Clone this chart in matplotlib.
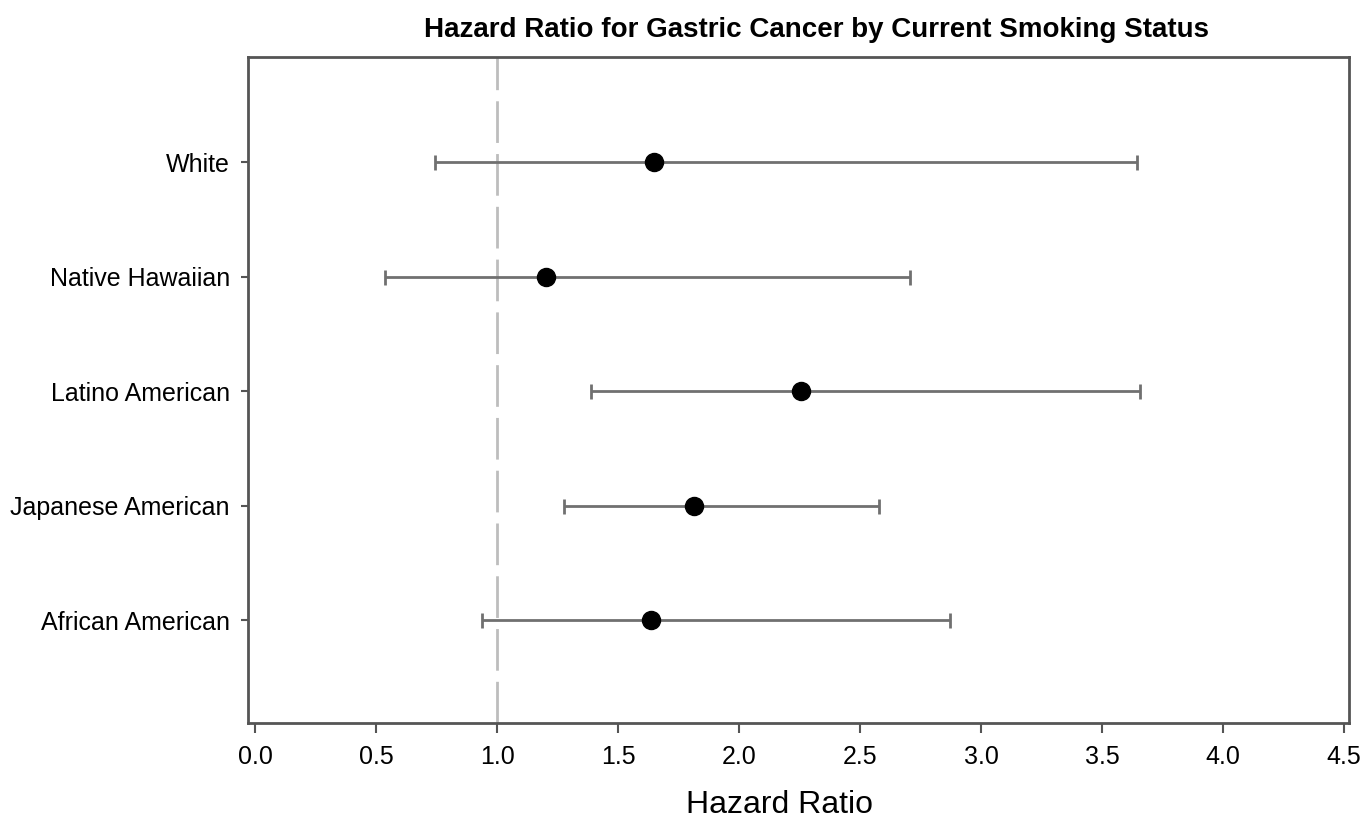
import numpy as np
import matplotlib
matplotlib.use("Agg")
import matplotlib.pyplot as plt

plt.rcParams['font.family'] = ['Liberation Sans', 'DejaVu Sans']

groups = ["African American", "Japanese American", "Latino American",
          "Native Hawaiian", "White"]
hr = [1.635, 1.813, 2.257, 1.20, 1.647]
ci_low = [0.938, 1.274, 1.386, 0.535, 0.743]
ci_high = [2.871, 2.577, 3.655, 2.705, 3.643]
xticks = [0.0, 0.5, 1.0, 1.5, 2.0, 2.5, 3.0, 3.5, 4.0, 4.5]

fig = plt.figure(figsize=(13.71, 8.27), dpi=100)
ax = fig.add_axes([248/1371, 1-723/827, (1349-248)/1371, (723-57)/827])

y = np.arange(1, len(groups) + 1)
hr = np.array(hr)
err = [hr - np.array(ci_low), np.array(ci_high) - hr]

ax.axvline(1.0, color="#bdbdbd", lw=2, dashes=(15, 4), zorder=1)
ax.errorbar(hr, y, xerr=err, fmt="none", ecolor="#707070", elinewidth=2,
            capsize=5.4, capthick=2, zorder=2)
ax.plot(hr, y, "o", color="black", markersize=13, zorder=3)

ax.set_xlim(-0.03, 4.52)
ax.set_ylim(0.1, 5.92)
ax.set_xticks(xticks)
ax.set_xticklabels(["%.1f" % t for t in xticks], fontsize=18)
ax.set_yticks(y)
ax.set_yticklabels(groups, fontsize=18)

for s in ax.spines.values():
    s.set_color("#555555")
    s.set_linewidth(2)
ax.tick_params(axis="x", length=7, width=1.5, color="#555555", pad=9)
ax.tick_params(axis="y", length=5, width=1.5, color="#555555", pad=8)

fig.text(816/1371, 1-30/827, "Hazard Ratio for Gastric Cancer by Current Smoking Status",
         ha="center", va="center", fontsize=20, fontweight="bold")
fig.text(780/1371, 1-805/827, "Hazard Ratio", ha="center", va="center", fontsize=23)

fig.savefig("out.png", dpi=100)
